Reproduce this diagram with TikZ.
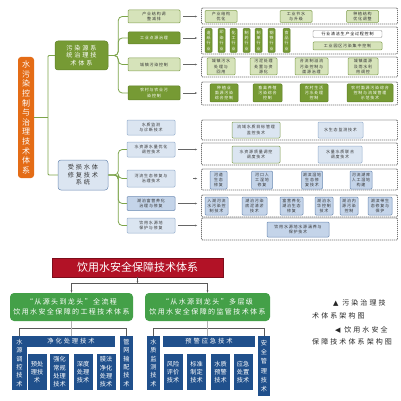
\documentclass[tikz,border=0pt]{standalone}
\usepackage{fontspec}
\setmainfont{Noto Sans CJK SC}
\newfontfamily\spfont[LetterSpace=20]{Noto Sans CJK SC}
\newfontfamily\wdfont[LetterSpace=30]{Noto Sans CJK SC}
\newfontfamily\symfont{DejaVu Sans}
\XeTeXlinebreaklocale "zh"
\XeTeXlinebreakskip=0pt plus 0.5pt
\usetikzlibrary{arrows.meta,positioning}

\definecolor{rootor}{RGB}{228,108,22}
\definecolor{gdkc}{RGB}{118,154,52}
\definecolor{gdkB}{RGB}{96,130,40}
\definecolor{gplc}{RGB}{214,227,186}
\definecolor{gplB}{RGB}{130,160,80}
\definecolor{glinec}{RGB}{125,165,75}
\definecolor{bplc}{RGB}{219,229,241}
\definecolor{bplB}{RGB}{150,175,205}
\definecolor{bgrc}{RGB}{196,212,233}
\definecolor{bmdB}{RGB}{110,140,180}
\definecolor{titred}{RGB}{178,18,38}
\definecolor{gbot}{RGB}{68,160,72}
\definecolor{navy}{RGB}{32,80,140}

\begin{document}
\begin{tikzpicture}[x=1pt, y=-1pt,
    every node/.style={inner sep=0pt, align=center},
    sz/.style 2 args={minimum width=#1pt, minimum height=#2pt},
    tx/.style={font=\spfont\fontsize{4}{5.4}\selectfont},
    gdk/.style={tx, draw=gdkB, fill=gdkc, text=white, rounded corners=1pt, line width=0.5pt},
    gpl/.style={tx, draw=gplB, fill=gplc, text=black!80, rounded corners=1pt, line width=0.5pt},
    bpl/.style={tx, draw=bplB, fill=bplc, text=black!80, rounded corners=1pt, line width=0.5pt},
    bgr/.style={bpl, fill=bgrc, draw=bmdB},
    row/.style={draw=black!55, fill=white, dash pattern=on 1.2pt off 0.8pt, line width=0.8pt, rounded corners=1pt},
    gline/.style={draw=glinec, line width=0.8pt, rounded corners=4pt},
    arr/.style={draw=black!60, line width=0.45pt, -{Stealth[length=2.2pt,width=1.8pt]}},
    nv/.style={fill=navy, text=white, font=\fontsize{6.2}{8.3}\selectfont},
    vt/.style={text width=#1pt},
    gb/.style={fill=gbot, text=white, rounded corners=4pt, font=\spfont\fontsize{7}{10.5}\selectfont},
    bk/.style={draw=black!65, line width=0.6pt},
    capnote/.style={anchor=west, text=black!85, font=\wdfont\fontsize{7}{9}\selectfont},
  ]
  \fill[white] (0,0) rectangle (400,401);
  \useasboundingbox (0,0) rectangle (400,401);

  % pollution control: trunk
  \node[fill=rootor, text=white, rounded corners=3pt, vt=9, sz={16}{121},
        font=\fontsize{8}{9.6}\selectfont] (root) at (26,117.5) {水污染控制与治理技术体系};
  \node[gdk, sz={53}{29}, rounded corners=3pt, font=\wdfont\fontsize{6.2}{7.6}\selectfont] (gsys) at (81.5,55.5) {污染源系\\统治理技\\术体系};
  \node[bpl, draw=bmdB, sz={50}{30}, rounded corners=3pt, font=\wdfont\fontsize{6.2}{7.6}\selectfont] (bsys) at (83,175) {受损水体\\修复技术\\系统};
  \coordinate (spine) at (48,117.5);
  \draw[gline, rounded corners=1pt] (root.east) -- (spine);
  \draw[gline, rounded corners=1pt] (gsys.west) -| (spine);
  \draw[gline, rounded corners=1pt] (bsys.west) -| (spine);

  % pollution source branches
  \node[gpl, sz={52}{13}] (g1) at (154,16.5) {产业结构调\\整减排};
  \node[gdk, sz={52}{12}] (g2) at (154,38) {工业点源治理};
  \node[gpl, sz={52}{13}] (g3) at (154,64.5) {城镇污染控制};
  \node[gdk, sz={52}{14}] (g4) at (154,93) {农村与农业污\\染控制};
  \foreach \nd in {g1,g2,g3,g4}
    \draw[gline] (gsys.east) -- ++(10,0) |- (\nd.west);

  \node[row, sz={196}{16}] (gr1) at (299.5,16) {};
  \node[row, sz={196}{27}] (gr2) at (299.5,40.5) {};
  \node[row, sz={196}{20}] (gr3) at (299.5,67) {};
  \node[row, sz={196}{23}] (gr4) at (299.5,93.5) {};
  \draw[arr, shorten <=3pt, shorten >=4pt] (g1.east) -- (g1.east -| gr1.west);
  \draw[arr, shorten <=3pt, shorten >=4pt] (g2.east) -- (g2.east -| gr2.west);
  \draw[arr, shorten <=3pt, shorten >=4pt] (g3.east) -- (g3.east -| gr3.west);
  \draw[arr, shorten <=3pt, shorten >=4pt] (g4.east) -- (g4.east -| gr4.west);

  \node[gpl, sz={32}{12}] (ga1) at (221,16.5) {产业结构\\优化};
  \node[gpl, sz={32}{12}] (ga2) at (296,16.5) {工业节水\\与升级};
  \node[gpl, sz={32}{12}] (ga3) at (362.5,16.5) {种植结构\\优化调整};

  \foreach \cx/\t [count=\i] in {208.5/造纸行业, 221.5/印染行业, 233.5/化工行业, 246.5/制药行业,
                                 258.5/制革行业, 271.5/钢铁行业, 286.5/食品行业}
    \node[gdk, sz={7}{24}, vt=5, font=\spfont\fontsize{4}{5.4}\selectfont] (ind\i) at (\cx,40.5) {\t};
  \node[tx, draw=black!45, fill=white, sz={69}{7}, rounded corners=1pt] (gb1) at (347.5,34) {行业清洁生产全过程控制};
  \node[gpl, sz={69}{8}] (gb2) at (347.5,46) {工业园区污染集中控制};

  \node[gpl, sz={28}{17}] (gc1) at (221,66.5) {城镇污水\\处理与\\回用};
  \node[gpl, sz={27}{17}] (gc2) at (263.5,66.5) {污泥处理\\处置与资\\源化};
  \node[gpl, sz={33}{17}] (gc3) at (311.5,66.5) {合流制溢流\\污染控制与\\面源治理};
  \node[gpl, sz={30}{17}] (gc4) at (363,66.5) {城镇面源\\及雨水利\\用调控};

  \node[gdk, sz={28}{18}] (gd1) at (224,93) {种植业\\面源污染\\综合控制};
  \node[gdk, sz={29}{18}] (gd2) at (267.5,93) {畜禽养殖\\污染综合\\控制};
  \node[gdk, sz={28}{18}] (gd3) at (314,93) {农村生活\\污水处理\\控制};
  \node[gdk, sz={46}{18}] (gd4) at (370,93) {农村面源污染综合\\控制与流域管理\\示范技术};

  % damaged water body branches
  \node[bpl, sz={48}{15}] (b1) at (151,127.5) {水质监测\\与诊断技术};
  \node[bpl, sz={48}{15}] (b2) at (151,149.5) {水资源水量优化\\调控技术};
  \node[bpl, sz={48}{17}] (b3) at (151,178.5) {河流生态修复与\\治理技术};
  \node[bgr, sz={48}{14}] (b4) at (151,203.5) {湖泊富营养化\\治理与修复};
  \node[bpl, sz={48}{15}] (b5) at (151,225.5) {饮用水源地\\保护与修复};
  \foreach \nd in {b2,b3,b4,b5}
    \draw[gline] (bsys.east) -- ++(10,0) |- (\nd.west);

  \node[row, sz={196}{20}] (br1) at (299.5,130) {};
  \node[row, sz={196}{22}] (br2) at (299.5,154) {};
  \node[row, sz={196}{21}] (br3) at (299.5,179.5) {};
  \node[row, sz={196}{22}] (br4) at (299.5,206) {};
  \node[row, sz={196}{22}] (br5) at (299.5,229) {};
  \draw[arr, shorten <=3pt, shorten >=4pt] (b2.east) -- (b2.east -| br2.west);
  \draw[arr, shorten <=18pt, shorten >=4pt] (b3.east) -- (b3.east -| br3.west);
  \draw[arr, shorten <=3pt, shorten >=4pt] (b4.east) -- (b4.east -| br4.west);
  \draw[arr, shorten <=3pt, shorten >=4pt] (b5.east) -- (b5.east -| br5.west);

  \node[bpl, draw=gplB, sz={48}{16}] (ba1) at (256,130) {流域水质目标管理\\监控技术};
  \node[bpl, sz={45}{16}] (ba2) at (340.5,130) {水生态监测技术};
  \node[bpl, draw=gplB, sz={48}{17}] (bb1) at (256,154.5) {水资源质量调控\\调度技术};
  \node[bpl, sz={44}{17}] (bb2) at (340,154.5) {水量水质联合\\调度技术};

  \node[bgr, sz={17}{18}] (bc1) at (218.5,180) {河道\\生态\\修复};
  \node[bgr, sz={21}{18}] (bc2) at (262,180) {河口人\\工湿地\\修复};
  \node[bgr, sz={21}{18}] (bc3) at (312,180) {湖滨湿地\\生态修\\复技术};
  \node[bgr, sz={22}{18}] (bc4) at (361,180) {河流湖库\\人工湿地\\构建};

  \node[bgr, sz={23}{18}] (bd1) at (216.5,206) {入湖河流\\水污染控\\制技术};
  \node[bgr, sz={25}{18}] (bd2) at (254.5,206) {湖泊污染\\底泥清淤\\技术};
  \node[bgr, sz={23}{18}] (bd3) at (291.5,206) {富营养化\\湖泊生态\\修复};
  \node[bgr, sz={18}{18}] (bd4) at (324,206) {湖泊水\\华控制\\技术};
  \node[bgr, sz={18}{18}] (bd5) at (349,206) {湖泊内\\源污染\\控制};
  \node[bgr, sz={24}{18}] (bd6) at (380,206) {湖滨带生\\态修复与\\保护};

  \node[bgr, sz={62}{15}] (be1) at (298,229.5) {饮用水源地水源涵养与\\保护技术};

  % drinking water safety
  \node[fill=titred, draw=titred!70!black, text=white, sz={171}{19},
        font=\fontsize{11}{13}\selectfont] (title) at (137.5,267.5) {饮用水安全保障技术体系};
  \node[gb, sz={123}{28}] (eng) at (71.5,307) {“从源头到龙头”全流程\\饮用水安全保障的工程技术体系};
  \node[gb, sz={125}{28}] (reg) at (207.5,307) {“从水源到龙头”多层级\\饮用水安全保障的监管技术体系};
  \path (title.south) ++(0,6) coordinate (tj);
  \draw[bk, -{Stealth[length=2.2pt]}] (title.south) -- (tj);
  \draw[bk, -{Stealth[length=2.5pt]}] (tj) -| (eng.north);
  \draw[bk, -{Stealth[length=2.5pt]}] (tj) -| (reg.north);

  \node[nv, vt=7, sz={15}{54}] (src) at (19.5,363) {水源调控技术};
  \node[nv, sz={88}{11}, font=\wdfont\fontsize{6.3}{8}\selectfont] (hdr1) at (71,341.5) {净化处理技术};
  \node[nv, sz={19}{36}] (pre) at (37,372) {预处\\理技\\术};
  \node[nv, sz={19}{36}] (enh) at (59.5,372) {强化\\常规\\处理\\技术};
  \node[nv, sz={19}{36}] (adv) at (83,372) {深度\\处理\\技术};
  \node[nv, sz={19}{36}] (mem) at (106,372) {膜法\\净化\\处理\\技术};
  \node[nv, vt=7, sz={13}{54}] (pipe) at (126.5,363) {管网输配技术};
  \draw[bk] (src.north) -- ++(0,-8) -| (pipe.north);
  \draw[bk, draw=black!30] (eng.south) -- (eng.south |- hdr1.north);

  \node[nv, vt=7, sz={13}{54}] (mon) at (153.5,363) {水质监测技术};
  \node[nv, sz={92}{11}, font=\wdfont\fontsize{6.3}{8}\selectfont] (hdr2) at (209,341.5) {预警应急技术};
  \node[nv, sz={19}{36}] (risk) at (173,372) {风险\\评价\\技术};
  \node[nv, sz={19}{36}] (std) at (196.5,372) {标准\\制定\\技术};
  \node[nv, sz={19}{36}] (warn) at (220.5,372) {水质\\预警\\技术};
  \node[nv, sz={19}{36}] (emg) at (243,372) {应急\\处置\\技术};
  \node[nv, vt=7, sz={12}{60}, font=\fontsize{6.2}{9.3}\selectfont] (safe) at (264,366) {安全管理技术};
  \draw[bk] (mon.north) -- ++(0,-8) -| (safe.north);
  \draw[bk, draw=black!30] (reg.south) -- (reg.south |- hdr2.north);

  % captions
  \node[capnote] (cap1) at (333,303) {{\symfont ▲}\ 污染治理技};
  \node[capnote] (cap2) at (312,316) {术体系架构图};
  \node[capnote] (cap3) at (335,330) {{\symfont ◀}\ 饮用水安全};
  \node[capnote] (cap4) at (312,342) {保障技术体系架构图};
\end{tikzpicture}
\end{document}
